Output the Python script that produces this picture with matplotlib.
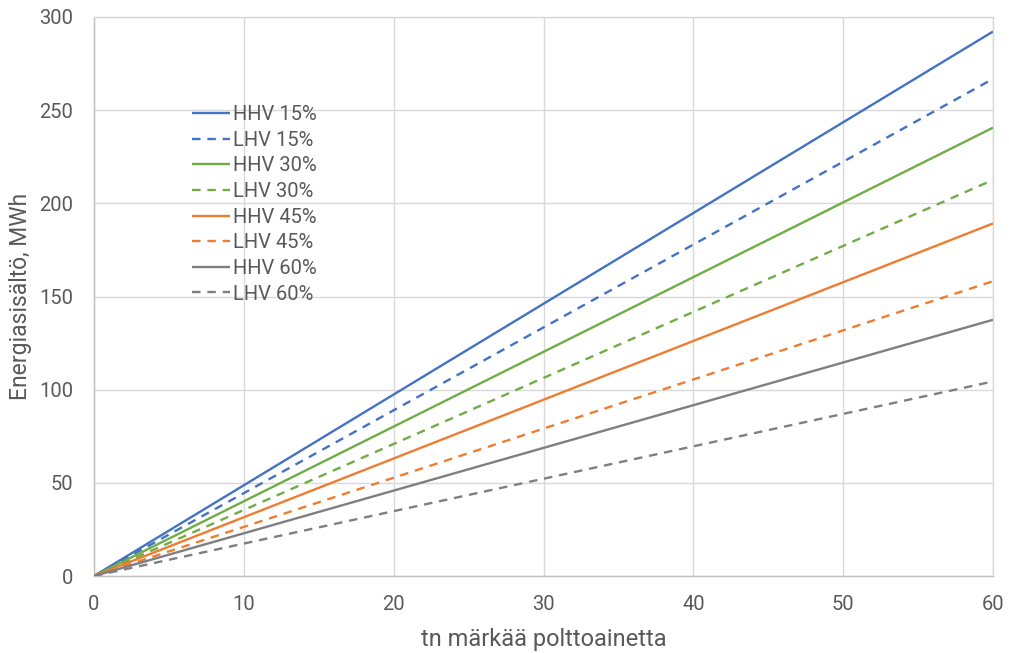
import matplotlib
matplotlib.use("Agg")
import matplotlib.pyplot as plt

# Wet fuel mass (t) and energy content (MWh) at the line ends
tonnes = [0, 60]
hhv_15 = [0, 292.2]
lhv_15 = [0, 266.8]
hhv_30 = [0, 240.6]
lhv_30 = [0, 212.6]
hhv_45 = [0, 189.2]
lhv_45 = [0, 158.2]
hhv_60 = [0, 137.5]
lhv_60 = [0, 104.4]

labels = ["HHV 15%", "LHV 15%", "HHV 30%", "LHV 30%",
          "HHV 45%", "LHV 45%", "HHV 60%", "LHV 60%"]
x_ticks = [0, 10, 20, 30, 40, 50, 60]
y_ticks = [0, 50, 100, 150, 200, 250, 300]

series = [hhv_15, lhv_15, hhv_30, lhv_30, hhv_45, lhv_45, hhv_60, lhv_60]
colors = ["#4472C4", "#4472C4", "#70AD47", "#70AD47",
          "#ED7D31", "#ED7D31", "#7F7F7F", "#7F7F7F"]
dashed = (0, (3.6, 2.9))

plt.rcParams["font.family"] = ["Roboto", "DejaVu Sans"]
text_col = "#595959"
grid_col = "#D9D9D9"

fig = plt.figure(figsize=(10.09, 6.53), dpi=100)
ax = fig.add_axes([94 / 1009, 1 - 576 / 653, (993 - 94) / 1009, (576 - 17) / 653])

for i, (vals, c, lab) in enumerate(zip(series, colors, labels)):
    ls = "-" if i % 2 == 0 else dashed
    ax.plot(tonnes, vals, color=c, lw=1.7, linestyle=ls, label=lab,
            solid_capstyle="butt", dash_capstyle="butt", zorder=3)

ax.set_xlim(0, 60)
ax.set_ylim(0, 300)
ax.set_xticks(x_ticks)
ax.set_yticks(y_ticks)
ax.grid(True, color=grid_col, lw=1.0, zorder=0)
for s in ax.spines.values():
    s.set_color(grid_col)
    s.set_linewidth(1.0)
ax.spines["left"].set_color("#BFBFBF")
ax.spines["bottom"].set_color("#BFBFBF")
ax.tick_params(length=0, labelsize=14.5, colors=text_col)
ax.tick_params(axis="y", pad=15)
ax.tick_params(axis="x", pad=14)

ax.set_xlabel("tn märkää polttoainetta", fontsize=17, color=text_col, labelpad=10)
ax.set_ylabel("Energiasisältö, MWh", fontsize=16.5, color=text_col)
ax.yaxis.set_label_coords(-0.069, 0.5)

leg = ax.legend(loc="upper left", bbox_to_anchor=(0.1, 0.857), frameon=False,
                fontsize=14.5, handlelength=1.9, handletextpad=0.15,
                labelspacing=0.33, borderaxespad=0)
for t in leg.get_texts():
    t.set_color(text_col)

fig.savefig("out.png", dpi=100)
